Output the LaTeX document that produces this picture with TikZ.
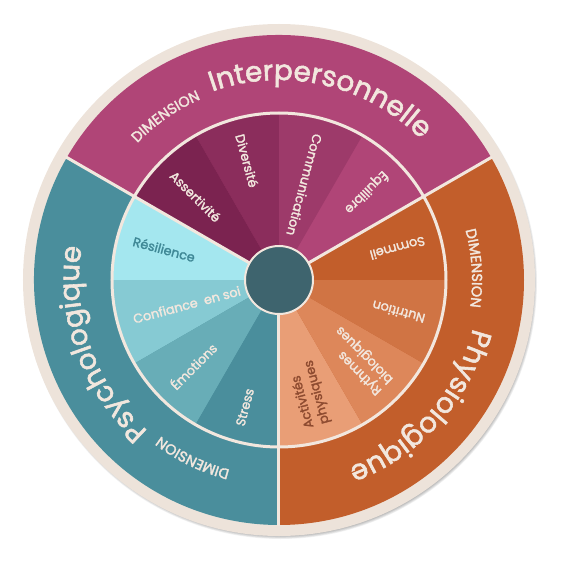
\documentclass[tikz,border=0pt]{standalone}
\usepackage{fontspec}
\setmainfont{Poppins}[FakeBold=2]
\usetikzlibrary{decorations.text}
\definecolor{Beige}{HTML}{EDE3DA}
\definecolor{Cream}{HTML}{F2E7DE}
\definecolor{Slate}{HTML}{3E646E}
\definecolor{Plum}{HTML}{B04577}
\definecolor{PlumA}{HTML}{7B2350}
\definecolor{PlumB}{HTML}{8B2D5C}
\definecolor{PlumC}{HTML}{9D3A6A}
\definecolor{Rust}{HTML}{C25E2B}
\definecolor{RustB}{HTML}{D07444}
\definecolor{RustC}{HTML}{DD875A}
\definecolor{RustD}{HTML}{E99E76}
\definecolor{Teal}{HTML}{4A8E9C}
\definecolor{TealB}{HTML}{68ADB7}
\definecolor{TealC}{HTML}{86CAD3}
\definecolor{TealD}{HTML}{A4E7EF}
\definecolor{TealInk}{HTML}{3F8896}
\definecolor{RustInk}{HTML}{8E4B30}
\newcommand{\dimfont}{\fontsize{14.5}{14.5}\selectfont}
\newcommand{\bigfont}{\fontsize{28}{28}\selectfont}
\tikzset{
  arcword/.style={decorate,decoration={text along path,text color=Cream,text={#1}}},
  petal/.style={anchor=west,inner sep=0pt,align=left,font=\fontsize{12.8}{16}\selectfont},
  rim/.style={Cream,line width=3pt}
}

\begin{document}
\begin{tikzpicture}[x=1pt,y=1pt]
        \useasboundingbox (-279,-285) rectangle (285,280);
        % soft shadow and base disk
        \foreach \k in {0,...,5}
          \fill[black,opacity=0.05] (1.5,-2.5) circle (256.5-\k*0.6);
        \fill[Beige] (0,0) circle (256);
        % three dimensions
        \foreach \a/\col in {30/Plum,-90/Rust,150/Teal}
          \fill[\col] (0,0) -- (\a:245) arc[start angle=\a,delta angle=120,radius=245] -- cycle;
        % twelve themes
        \foreach \a/\col in {0/Rust,30/Plum,60/PlumC,90/PlumB,120/PlumA,150/TealD,
          180/TealC,210/TealB,240/Teal,270/RustD,300/RustC,330/RustB}
          \fill[\col] (0,0) -- (\a:167) arc[start angle=\a,delta angle=30,radius=167] -- cycle;
        \draw[rim] (0,0) circle (167);
        \foreach \a in {30,150,270}
          \draw[rim] (0,0) -- (\a:246);
        \node[circle,fill=Slate,draw=Cream,line width=2pt,minimum size=68pt,inner sep=0pt] (hub) at (0,0) {};
        % theme labels, read toward the hub
        \foreach \a/\txt/\col/\nm in {135/Assertivité/Cream/assert,105/Diversité/Cream/divers,
          75/Communication/Cream/comm,45/Équilibre/Cream/equil,15/Sommeil/Cream/sommeil,
          -15/Nutrition/Cream/nutri,-45/{Rythmes\\biologiques}/Cream/rythmes,
          -75/{Activités\\physiques}/RustInk/activ,-105/Stress/Cream/stress,
          -135/Émotions/Cream/emo,-165/{Confiance\ \ en soi}/Cream/confi,165/Résilience/TealInk/resil}
          \node[petal,text=\col,rotate=\a+180] (\nm) at (\a:151) {\txt};
        % dimension titles along the ring
        \path[arcword={|\dimfont|DIMENSION}] (136:197) arc[start angle=136,delta angle=-100,radius=197];
        \path[arcword={|\bigfont|Interpersonnelle}] (109.5:200) arc[start angle=109.5,delta angle=-100,radius=200];
        \path[arcword={|\dimfont|DIMENSION}] (15:193) arc[start angle=15,delta angle=-100,radius=193];
        \path[arcword={|\bigfont|Physiologique}] (-14:200) arc[start angle=-14,delta angle=-100,radius=200];
        \path[arcword={|\dimfont|DIMENSION}] (255.5:196) arc[start angle=255.5,delta angle=-100,radius=196];
        \path[arcword={|\bigfont|Psychologique}] (229:200) arc[start angle=229,delta angle=-100,radius=200];
      \end{tikzpicture}
\end{document}
